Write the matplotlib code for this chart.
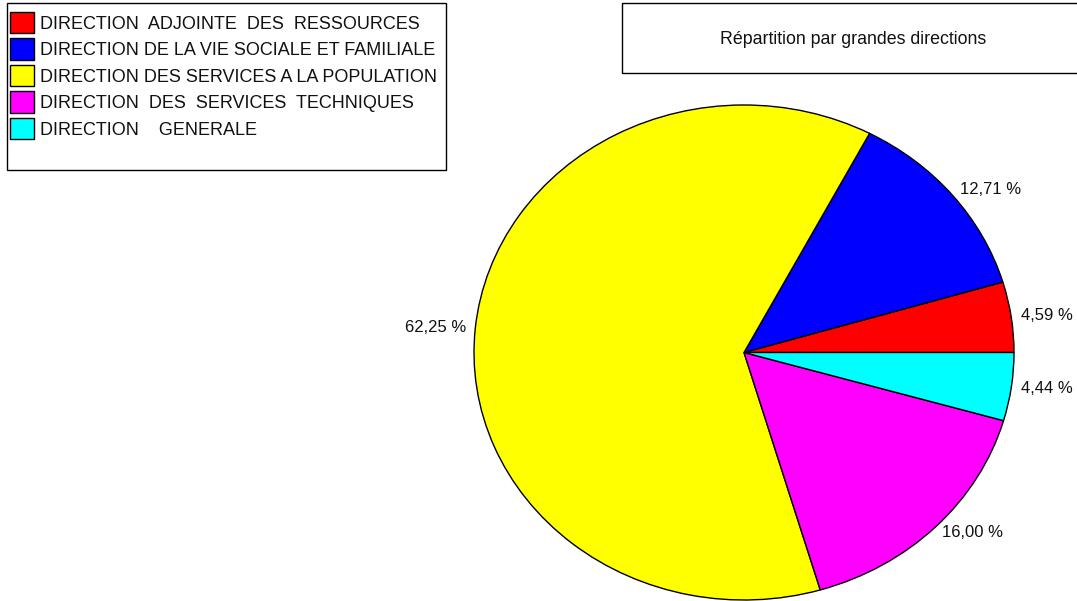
import matplotlib
matplotlib.use("Agg")
import matplotlib.pyplot as plt
from matplotlib.patches import Rectangle

plt.rcParams['font.family'] = ['Liberation Sans', 'DejaVu Sans']

categories = [
    "DIRECTION  ADJOINTE  DES  RESSOURCES",
    "DIRECTION DE LA VIE SOCIALE ET FAMILIALE",
    "DIRECTION DES SERVICES A LA POPULATION",
    "DIRECTION  DES  SERVICES  TECHNIQUES",
    "DIRECTION    GENERALE",
]
values = [4.59, 12.71, 62.25, 16.00, 4.44]
colors = ["#ff0000", "#0000ff", "#ffff00", "#ff00ff", "#00ffff"]
title = "Répartition par grandes directions"

W, H = 1077, 601
fig = plt.figure(figsize=(W / 100, H / 100), dpi=100)

# overlay axes in pixel coordinates for boxes
bg = fig.add_axes([0, 0, 1, 1])
bg.set_xlim(0, W)
bg.set_ylim(H, 0)
bg.axis('off')

# pie axes: ellipse center (744, 352.5), rx 270, ry 247.5
cx, cy, rx, ry = 744, 352.5, 270, 247.5
ax = fig.add_axes([(cx - rx) / W, (H - cy - ry) / H, 2 * rx / W, 2 * ry / H])
labels_txt = [f"{v:.2f}".replace('.', ',') + " %" for v in values]
wedges, texts = ax.pie(values, colors=colors, startangle=0, counterclock=True,
                       labels=labels_txt, labeldistance=1.035,
                       wedgeprops=dict(edgecolor='black', linewidth=1.0),
                       textprops=dict(fontsize=12, color='#111111'))
ax.set_aspect('auto')
ax.set_xlim(-1, 1)
ax.set_ylim(-1, 1)
ax.axis('off')

# title box
bg.add_patch(Rectangle((622, 3), 470, 70, fill=False, edgecolor='black', linewidth=1.0))
bg.text(853, 40, title, ha='center', va='center', fontsize=12.8, color='#111111')

# legend box
bg.add_patch(Rectangle((7, 3), 439, 167, fill=False, edgecolor='black', linewidth=1.0))
leg = fig.legend(wedges, categories, loc='upper left',
                 bbox_to_anchor=(10 / W, 1 - 12 / H), frameon=False,
                 fontsize=13, handlelength=1.33, handleheight=1.45,
                 handletextpad=0.32, labelspacing=0.28, borderpad=0,
                 borderaxespad=0)
for t in leg.get_texts():
    t.set_color('#111111')

fig.savefig("out.png", dpi=100)
